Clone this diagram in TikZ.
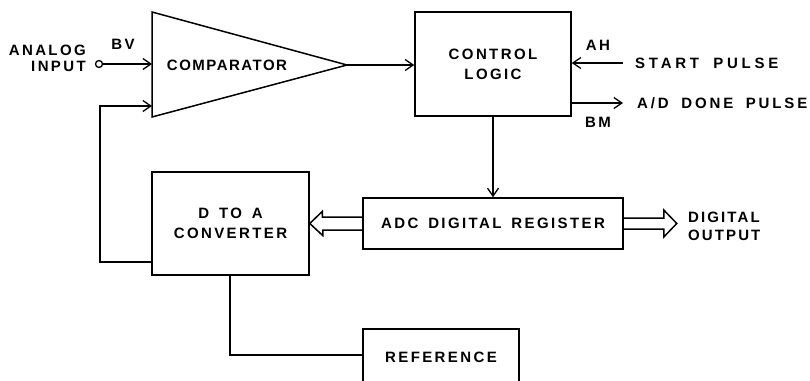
\documentclass[tikz,border=0pt]{standalone}
\usepackage{fontspec}
\setmainfont{Liberation Sans}
\newfontfamily\lsA[LetterSpace=16,WordSpace=1.5]{Liberation Sans Bold}
\newfontfamily\lsB[LetterSpace=10,WordSpace=1.5]{Liberation Sans Bold}
\newfontfamily\lsC[LetterSpace=25,WordSpace=1.8]{Liberation Sans Bold}
\newfontfamily\lsE[LetterSpace=19,WordSpace=1.8]{Liberation Sans Bold}
\newfontfamily\lsF[LetterSpace=14,WordSpace=1.5]{Liberation Sans Bold}
\usetikzlibrary{arrows.meta,calc}
\tikzset{
  lbl/.style={inner sep=0pt, font=\lsA\fontsize{15}{20}\selectfont},
  box/.style={draw, line width=1.5pt, inner sep=0pt, align=center, lbl},
  wire/.style={line width=1.5pt},
  arr/.style={wire, -{Straight Barb[length=8pt,width=11pt,line width=1.3pt]}},
  dbl/.style={line width=1.5pt, line join=miter},
}
\begin{document}
\begin{tikzpicture}[x=1pt,y=-1pt]
\useasboundingbox (0,0) rectangle (810,380);
\clip (0,0) rectangle (810,380);
% comparator triangle
\coordinate (cmpTL) at (152,12);
\coordinate (cmpBL) at (152,117);
\coordinate (cmpO) at (347,65);
\draw[wire, line join=miter] (cmpTL) -- (cmpO) -- (cmpBL) -- cycle;
\node[lbl, font=\lsB\fontsize{15}{18}\selectfont] (cmp) at (227,65) {COMPARATOR};
\coordinate (cmpIn1) at (152,64);
\coordinate (cmpIn2) at (152,106);
% boxes
\node[box, minimum width=156pt, minimum height=104pt] (ctrl) at (493,64)
  {\fontsize{15}{20}\selectfont CONTROL\\LOGIC};
\node[box, minimum width=157pt, minimum height=103pt] (dac) at (230.5,223.5)
  {\fontsize{15}{18.5}\selectfont D TO A\\CONVERTER};
\node[box, minimum width=260pt, minimum height=51pt] (adc) at (493,223.5)
  {ADC DIGITAL REGISTER};
\node[box, minimum width=156pt, minimum height=56pt] (ref) at (441,357) {REFERENCE};
% analog input
\node[lbl, align=right, anchor=east, font=\lsA\fontsize{15}{15}\selectfont] (ain) at (86,58.5) {ANALOG\\[1.5pt]INPUT};
\node[draw, circle, line width=1.3pt, minimum size=7pt, inner sep=0pt] (inc) at (99,64) {};
\draw[arr] (inc) -- (cmpIn1);
\node[lbl] (bv) at (123,44) {BV};
% feedback
\coordinate (fb) at (100,262);
\draw[arr] (fb -| dac.west) -- (fb) |- (cmpIn2);
% comparator to control logic
\draw[arr] (cmpO) -- (cmpO -| ctrl.west);
% start pulse
\coordinate (sp) at (623,63);
\draw[arr] (sp) -- (sp -| ctrl.east);
\node[lbl, anchor=west, font=\lsC\fontsize{15}{18}\selectfont] (spt) at (635,63) {START PULSE};
\node[lbl] (ah) at (598,45) {AH};
% done pulse
\coordinate (dp) at (623,103);
\draw[arr] (dp -| ctrl.east) -- (dp);
\node[lbl, anchor=west, font=\lsE\fontsize{15}{18}\selectfont] (dpt) at (637,103) {A/D DONE PULSE};
\node[lbl] (bm) at (598,122) {BM};
% control to register
\draw[arr] (ctrl.south -| adc.north) -- (adc.north);
% register to DAC (double arrow)
\draw[dbl] ($(adc.west)+(0,-6.5)$) -- ++(-40,0) -- ++(0,-5.5) -- (dac.east)
  -- ++(13,12) -- ++(0,-5.5) -- ($(adc.west)+(0,6.5)$);
% register to digital output (double arrow)
\coordinate (dtip) at ($(adc.east)+(53,0)$);
\draw[dbl] ($(adc.east)+(0,-5.5)$) -- ++(40,0) -- ++(0,-8) -- (dtip)
  -- ++(-13,13.5) -- ++(0,-8) -- ($(adc.east)+(0,5.5)$);
\node[lbl, anchor=west, align=left, font=\lsF\fontsize{15}{18}\selectfont] (dout) at (688,226) {DIGITAL\\OUTPUT};
% DAC to reference
\coordinate (rf) at (230,355);
\draw[wire] (dac.south -| rf) -- (rf) -- (rf -| ref.west);
\end{tikzpicture}
\end{document}
